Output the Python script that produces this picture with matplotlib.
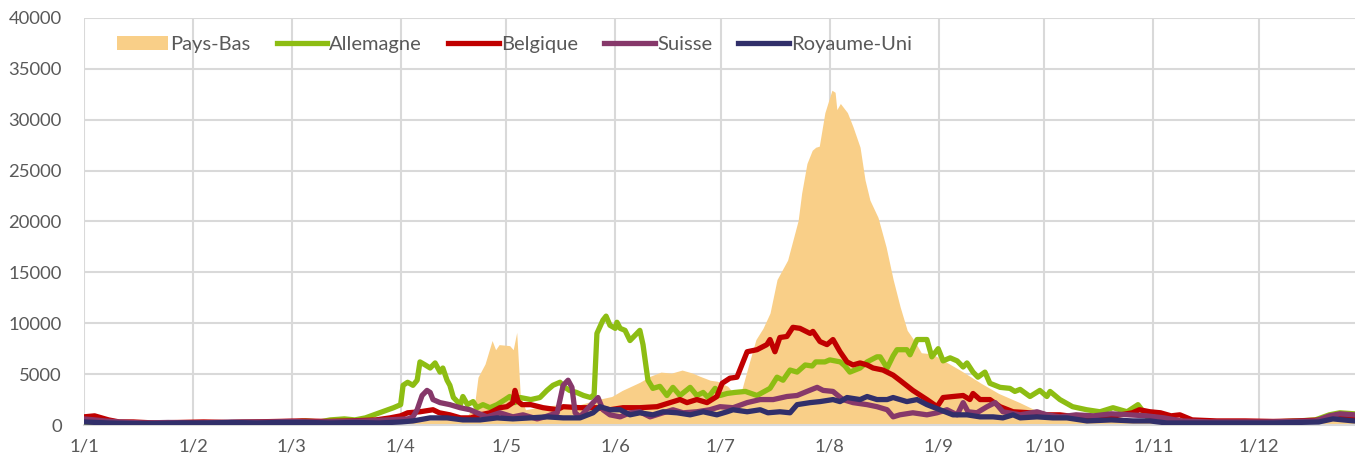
import matplotlib.pyplot as plt
import numpy as np

plt.rcParams["font.family"] = ["Lato", "DejaVu Sans"]

# day of year (0 = 1 Jan) and daily value
pb_days = [0, 7, 14, 21, 28, 35, 42, 49, 56, 63, 70, 77, 84, 90, 95, 100, 105, 109, 111, 112,
           114, 116, 117, 118, 121, 122, 123, 124, 125.5, 130, 135, 141, 146, 150, 153, 158, 161,
           164, 167, 170, 173, 175, 178, 180, 183, 185, 187, 189, 191, 193, 195, 197, 200, 203,
           204, 205.5, 207, 208, 209, 210.6, 212.6, 213.5, 214, 215, 217, 218.6, 220.6, 222,
           223.4, 225.7, 228, 230, 232, 234, 236, 238, 241, 245, 249, 255, 260, 266, 272, 277,
           285, 292, 300, 307, 315, 322, 330, 338, 345, 352, 357, 361, 364]
pb_vals = [300, 200, 150, 200, 150, 200, 150, 200, 250, 200, 250, 300, 300, 400, 500, 500, 600,
           900, 2000, 4700, 6000, 8300, 7400, 7900, 7800, 7400, 9100, 3000, 1500, 1800, 2000, 2000,
           2500, 2800, 3400, 4200, 4800, 5200, 5100, 5400, 5100, 4800, 4400, 4300, 3800, 3000,
           3500, 6000, 8400, 9500, 11000, 14300, 16200, 20100, 22800, 25700, 27000, 27300, 27400,
           30700, 32900, 32700, 31000, 31600, 30700, 29300, 27300, 24100, 22100, 20400, 17500,
           14300, 11600, 9300, 8300, 7100, 7000, 6200, 5400, 4100, 3100, 2200, 1200, 700, 500, 400,
           500, 400, 300, 300, 300, 300, 300, 400, 700, 700, 600]

de_days = [0, 5, 10, 17, 24, 31, 38, 45, 52, 59, 63, 67, 70, 74, 77, 80, 84, 88, 90, 90.7, 92,
           93.5, 94.7, 95.5, 97, 98.4, 99.8, 101.2, 102, 103.2, 104, 105, 107, 107.7, 109, 110.6,
           111.7, 113.4, 115.4, 117.4, 119.7, 121, 122.5, 124, 127, 129.6, 131.6, 133.3, 135.3,
           136.7, 138, 140, 142, 144, 145, 145.8, 147.5, 148.4, 149.5, 151, 151.5, 152.4, 153.8,
           155.2, 156.6, 158, 158.9, 160.3, 161.7, 163.7, 165.7, 167.4, 169.4, 172.3, 174.2, 176,
           177.4, 179.4, 180.8, 182.8, 185, 188, 191.3, 195, 197, 198.7, 200.7, 202.7, 205, 207,
           208, 210.6, 212, 215, 216.3, 217.7, 220.6, 222.6, 225.4, 226.3, 228.3, 230, 231.1,
           233.9, 234.8, 236.8, 239.6, 241, 242.8, 244.2, 246.2, 248.2, 249.9, 251, 252.7, 254.1,
           256.1, 257.5, 260.4, 263.2, 264.6, 266.1, 268.9, 271.7, 273.7, 274.6, 277.4, 281, 285,
           288.8, 292.5, 296.5, 299.6, 302.2, 307.8, 312, 318, 325, 332, 338, 345, 350, 354, 357,
           361, 364]
de_vals = [300, 250, 150, 150, 200, 200, 200, 250, 250, 300, 400, 300, 500, 600, 500, 700, 1200,
           1700, 2000, 3900, 4200, 3900, 4400, 6200, 5900, 5600, 6100, 5200, 5600, 4400, 3900, 2700,
           2000, 2800, 2000, 2300, 1700, 2000, 1700, 2000, 2500, 2800, 2200, 2700, 2500, 2700, 3400,
           3900, 4200, 3700, 3400, 3200, 2900, 2700, 3000, 9000, 10300, 10700, 9800, 9500, 10100,
           9500, 9300, 8300, 8800, 9300, 7900, 4400, 3600, 3800, 2900, 3700, 2900, 3700, 2900, 3200,
           2700, 3600, 2900, 3100, 3200, 3300, 2900, 3600, 4700, 4400, 5400, 5200, 5900, 5800, 6200,
           6200, 6400, 6200, 5800, 5200, 5600, 6200, 6700, 6700, 5600, 6800, 7400, 7400, 6900, 8400,
           8400, 6700, 7500, 6300, 6600, 6300, 5700, 6100, 5200, 4700, 5200, 4100, 3700, 3600, 3300,
           3500, 2800, 3400, 2800, 3300, 2500, 1800, 1500, 1300, 1700, 1300, 2000, 800, 500, 400,
           300, 300, 300, 300, 400, 500, 1000, 1200, 1100, 900]

be_days = [0, 3, 5, 7, 10, 14, 20, 27, 34, 41, 48, 55, 62, 69, 76, 83, 87, 90, 92, 95.5, 99.2,
           101, 104, 107, 110, 112.6, 115.4, 118.2, 120.2, 121.9, 122.5, 123.4, 124.5, 127, 130.5,
           134.5, 136.2, 141, 145.8, 149.5, 153.2, 158, 162.9, 166.6, 169.4, 171.4, 174.2, 177.1,
           179.9, 181.4, 183.6, 185.6, 188.5, 191.3, 194.1, 195, 196.4, 197.8, 199.8, 201.5, 203.5,
           206.4, 207.2, 209.2, 211.2, 212.9, 214.9, 216.9, 218.6, 220.6, 222.6, 224.3, 227.1, 230,
           231.9, 235.6, 239.6, 242.5, 244.2, 247, 249.9, 251.8, 252.7, 254.7, 257.5, 260.4, 264.1,
           268.9, 273.7, 277.4, 282, 288, 293, 298, 300, 303, 306, 309, 311.5, 315, 322, 330, 338,
           345, 352, 356, 360, 364]
be_vals = [800, 900, 700, 500, 300, 300, 200, 250, 300, 250, 300, 350, 400, 350, 400, 500, 700,
           900, 1200, 1300, 1500, 1200, 1000, 700, 700, 1000, 1200, 1700, 1800, 2200, 3400, 2300,
           2000, 2000, 1700, 1500, 1800, 1700, 1700, 1500, 1700, 1700, 1800, 2200, 2500, 2200, 2500,
           2200, 2800, 4100, 4600, 4700, 7200, 7400, 7900, 8400, 7200, 8600, 8700, 9600, 9500, 9000,
           9200, 8200, 7900, 8400, 7200, 6200, 5900, 6100, 5900, 5600, 5400, 4900, 4400, 3400, 2500,
           1800, 2700, 2800, 2900, 2500, 3100, 2500, 2500, 1800, 1300, 1200, 1000, 1000, 800, 700,
           900, 1200, 1500, 1300, 1200, 900, 1000, 500, 400, 400, 350, 400, 500, 900, 800, 700]

ch_days = [0, 3, 6, 10, 17, 24, 31, 38, 45, 52, 59, 66, 73, 80, 86, 92, 93.5, 94.7, 96.1, 97.5,
           98.4, 99.2, 101.2, 104, 106.9, 109.7, 111.7, 114.6, 118.2, 121.9, 124.8, 128.8, 131,
           134.5, 136.2, 137.6, 138.7, 139.6, 141, 144.7, 146.1, 147.5, 149.5, 152.4, 155.2, 158,
           160.9, 164.6, 167.4, 170.3, 174.2, 177.9, 180.8, 184.5, 188.5, 192.2, 195.9, 199.8,
           202.7, 205.5, 208.4, 210.1, 212.9, 215.7, 218.6, 222.6, 225.4, 228.3, 230, 231.9, 235.6,
           239.6, 242.5, 245.3, 248.2, 249.9, 251.3, 253.8, 256.7, 259, 261.2, 266.1, 270.9, 273.7,
           277.4, 282, 287, 292, 297, 302, 307, 312, 320, 328, 336, 344, 350, 354, 357, 361, 364]
ch_vals = [600, 500, 400, 300, 200, 250, 200, 250, 300, 300, 350, 300, 350, 400, 500, 600, 800,
           1500, 2900, 3400, 3200, 2500, 2200, 2000, 1700, 1500, 1200, 800, 1200, 800, 1000, 600,
           800, 1200, 3900, 4400, 3700, 1200, 800, 2200, 2700, 1500, 1000, 800, 1200, 1300, 800,
           1200, 1500, 1200, 1300, 1500, 1800, 1700, 2200, 2500, 2500, 2800, 2900, 3300, 3700, 3400,
           3300, 2500, 2200, 2000, 1800, 1500, 800, 1000, 1200, 1000, 1200, 1500, 1000, 2200, 1300,
           1200, 1800, 2200, 1300, 1000, 1300, 1000, 800, 1000, 900, 1100, 1000, 900, 700, 400, 300,
           300, 300, 350, 400, 900, 1100, 1000, 900]

uk_days = [0, 7, 14, 21, 28, 35, 42, 49, 56, 63, 70, 77, 84, 90, 93.5, 98.4, 103.2, 107.7, 112.6,
           117.4, 121.9, 126.8, 131.6, 136.2, 141, 144.7, 146.7, 149.5, 152.4, 155.2, 158, 161.7,
           164.6, 168.6, 172.3, 176, 179.9, 182.8, 184.5, 188.5, 192.2, 194.4, 197.8, 200.7, 202.7,
           206.4, 209.2, 212.9, 214.9, 216.9, 220.6, 222.6, 225.4, 228.3, 230, 233.9, 236.8, 239.6,
           243.3, 247, 251, 254.7, 258.4, 261.2, 264.1, 266.1, 270.9, 275.4, 279.4, 285.1, 292,
           298.2, 303, 307.8, 315, 322, 330, 338, 345, 351, 355, 358, 361, 364]
uk_vals = [300, 200, 150, 150, 200, 200, 250, 200, 250, 250, 200, 250, 200, 300, 400, 700, 700,
           500, 500, 700, 600, 700, 800, 700, 700, 1200, 1800, 1500, 1500, 1000, 1200, 1000, 1300,
           1200, 1000, 1300, 1000, 1300, 1500, 1300, 1500, 1200, 1300, 1200, 2000, 2200, 2300, 2500,
           2300, 2700, 2500, 2800, 2500, 2500, 2700, 2300, 2500, 2000, 1500, 1000, 1000, 800, 800,
           700, 1000, 700, 800, 700, 700, 400, 500, 400, 400, 200, 200, 200, 200, 200, 250, 300, 600,
           500, 400, 350]

month_starts = [0, 31, 59, 90, 120, 151, 181, 212, 243, 273, 304, 334]
month_labels = ["1/1", "1/2", "1/3", "1/4", "1/5", "1/6", "1/7", "1/8", "1/9", "1/10", "1/11", "1/12"]
y_ticks = [0, 5000, 10000, 15000, 20000, 25000, 30000, 35000, 40000]

TXT = "#595959"
GRID = "#D9D9D9"
LW = 3.8

fig = plt.figure(figsize=(13.55, 4.61), dpi=100)
ax = fig.add_axes([84 / 1355, 36 / 461, 1 - 84 / 1355, 407 / 461])

ax.fill_between(pb_days, pb_vals, 0, color="#F9CF88", lw=0, zorder=2, label="Pays-Bas")
ax.plot(de_days, de_vals, color="#8DBD13", lw=LW, zorder=3, label="Allemagne")
ax.plot(be_days, be_vals, color="#C00000", lw=LW, zorder=4, label="Belgique")
ax.plot(ch_days, ch_vals, color="#86386A", lw=LW, zorder=5, label="Suisse")
ax.plot(uk_days, uk_vals, color="#312F6A", lw=LW, zorder=6, label="Royaume-Uni")

ax.set_xlim(0, 1271 / 3.518)
ax.set_ylim(0, 40000)
ax.set_xticks(month_starts)
ax.set_xticklabels(month_labels)
ax.set_yticks(y_ticks)
ax.set_yticklabels([str(v) for v in y_ticks])
ax.tick_params(axis="both", length=0, labelsize=13.3, colors=TXT)
ax.tick_params(axis="y", pad=16)
ax.tick_params(axis="x", pad=10)
ax.grid(True, color=GRID, lw=1.5, zorder=0)
ax.set_axisbelow(True)
for side in ["top", "right", "left"]:
    ax.spines[side].set_visible(False)
ax.spines["bottom"].set_color(GRID)
ax.spines["bottom"].set_linewidth(1.5)

leg = ax.legend(loc="upper left", bbox_to_anchor=(0.012, 1.0), ncol=5, frameon=False,
                fontsize=14.5, handlelength=2.5, handletextpad=0.12, columnspacing=1.3)
for t in leg.get_texts():
    t.set_color(TXT)

fig.savefig("out.png", dpi=100)
